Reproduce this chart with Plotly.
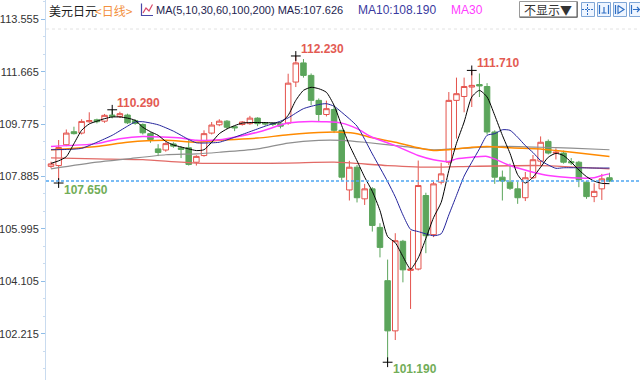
import plotly.graph_objects as go

# ---------------- data ----------------
opens = [108.25, 108.28, 109.03, 109.50, 109.45, 109.86, 109.93, 109.88, 110.10, 110.05,
         110.10, 109.90, 109.76, 109.43, 108.88, 108.84, 109.06, 108.92, 108.92, 108.40,
         108.64, 109.45, 109.75, 109.88, 109.68, 109.76, 109.79, 109.99, 109.82, 109.80,
         109.78, 109.81, 111.29, 111.98, 111.53, 110.63, 110.12, 110.30, 109.55, 107.40,
         108.22, 107.08, 107.44, 106.05, 104.13, 102.32, 105.55, 104.50, 104.55, 107.20,
         105.79, 107.68, 108.40, 110.63, 110.77, 111.11, 111.20, 111.13, 109.49, 107.86,
         107.68, 107.44, 107.12, 107.84, 108.44, 109.15, 108.73, 108.73, 108.42, 108.40,
         107.68, 107.16, 107.44, 107.84]
highs = [108.42, 109.20, 109.58, 109.68, 109.95, 110.20, 109.97, 110.14, 110.29, 110.22,
         110.15, 109.95, 109.80, 109.48, 109.05, 109.12, 109.12, 108.97, 109.20, 108.65,
         109.55, 109.85, 109.95, 109.92, 109.70, 109.88, 110.07, 110.02, 109.85, 109.83,
         109.80, 111.59, 112.23, 112.12, 111.60, 110.70, 110.62, 110.45, 109.55, 108.45,
         108.30, 107.62, 107.50, 106.20, 104.89, 105.84, 105.60, 105.93, 108.46, 107.30,
         107.70, 108.38, 110.93, 111.45, 111.45, 111.71, 111.60, 111.25, 109.55, 108.10,
         108.35, 107.70, 108.05, 108.66, 109.33, 109.22, 108.90, 108.82, 108.55, 108.45,
         107.72, 107.64, 107.98, 108.02]
lows = [108.18, 107.65, 108.98, 109.40, 109.40, 109.82, 109.80, 109.82, 109.98, 110.00,
        109.78, 109.75, 109.40, 109.10, 108.62, 108.78, 108.92, 108.55, 108.28, 108.28,
        108.60, 109.40, 109.70, 109.60, 109.52, 109.72, 109.75, 109.70, 109.72, 109.70,
        109.62, 109.75, 111.11, 111.45, 110.45, 109.85, 110.05, 109.45, 107.74, 107.02,
        106.95, 106.86, 105.90, 104.97, 101.19, 101.99, 104.07, 103.11, 104.50, 105.12,
        105.70, 107.60, 108.30, 109.25, 110.20, 110.39, 110.75, 109.40, 107.62, 107.02,
        107.40, 106.90, 107.00, 107.80, 108.30, 108.68, 108.50, 108.35, 108.30, 107.50,
        107.08, 106.96, 107.04, 107.68]
closes = [108.34, 108.93, 109.45, 109.43, 109.87, 109.90, 109.86, 110.09, 110.05, 110.15,
          109.82, 109.80, 109.46, 109.22, 108.75, 109.07, 108.98, 108.86, 108.32, 108.61,
          109.43, 109.74, 109.88, 109.66, 109.64, 109.85, 109.99, 109.79, 109.78, 109.76,
          109.70, 111.25, 111.98, 111.53, 110.63, 110.12, 110.33, 109.55, 107.86, 108.22,
          107.12, 107.44, 106.12, 105.33, 102.32, 105.57, 104.52, 104.55, 107.56, 105.75,
          107.62, 107.98, 110.63, 110.87, 111.13, 111.17, 111.15, 109.49, 107.86, 107.72,
          107.46, 107.12, 107.84, 108.49, 109.12, 108.73, 108.76, 108.40, 108.38, 107.77,
          107.16, 107.35, 107.80, 107.72]
days = list(range(len(opens)))

ma5_idx = [0, 1, 2, 3, 4, 5, 6, 7, 8, 9, 10, 11, 12, 13, 14, 15, 16, 17, 18, 19, 20, 21, 22, 23,
           24, 25, 26, 28, 30, 31, 32, 33, 34, 35, 36, 37, 38, 39, 40, 41, 42, 43, 44, 45, 46, 47,
           48, 49, 50, 51, 52, 53, 54, 55, 56, 57, 58, 59, 60, 61, 62, 63, 64, 65, 66, 67, 68, 69,
           70, 71, 72, 73]
ma5_val = [108.36, 108.45, 108.60, 109.07, 109.55, 109.78, 109.88, 109.97, 110.03, 110.03,
           109.99, 109.91, 109.66, 109.50, 109.37, 109.15, 109.02, 108.95, 108.88, 108.82,
           108.85, 109.12, 109.43, 109.60, 109.72, 109.81, 109.83, 109.83, 109.83, 110.09,
           110.63, 110.99, 111.10, 111.05, 110.92, 110.45, 109.72, 109.02, 108.45, 107.86,
           107.35, 106.66, 105.72, 105.50, 105.00, 104.55, 104.95, 105.65, 106.40, 106.95,
           108.10, 109.08, 109.85, 110.75, 110.99, 110.75, 110.09, 109.37, 108.72, 107.95,
           107.65, 107.86, 108.22, 108.58, 108.72, 108.64, 108.40, 108.12, 107.88, 107.72,
           107.64, 107.626]
ma10_idx = [0, 2, 4, 6, 8, 10, 11, 12, 14, 16, 18, 19, 21, 22, 24, 26, 28, 30, 31, 33, 35, 36,
            37, 38, 40, 42, 44, 45, 46, 47, 48, 50, 51, 52, 53, 54, 55, 56, 57, 58, 59, 60, 61,
            62, 63, 64, 65, 66, 67, 69, 71, 73]
ma10_val = [108.85, 108.86, 108.90, 109.12, 109.37, 109.70, 109.85, 109.86, 109.75, 109.52,
            109.22, 109.10, 109.10, 109.12, 109.30, 109.50, 109.70, 109.88, 110.00, 110.33,
            110.48, 110.51, 110.42, 110.20, 109.70, 108.70, 107.70, 107.15, 106.50, 105.98,
            105.90, 105.75, 105.82, 106.50, 107.20, 107.90, 108.40, 108.88, 109.37, 109.43,
            109.57, 109.55, 109.30, 109.00, 108.75, 108.46, 108.30, 108.18, 108.20, 108.20,
            108.19, 108.19]
ma30_idx = [0, 6, 9, 12, 17, 19, 22, 27, 31, 34, 38, 40, 42, 45, 48, 50, 52, 53, 55, 57, 58,
            60, 63, 65, 68, 71, 72, 73]
ma30_val = [108.97, 109.07, 109.25, 109.33, 109.27, 109.19, 109.21, 109.48, 109.81, 109.87,
            109.81, 109.61, 109.30, 109.00, 108.64, 108.49, 108.43, 108.52, 108.58, 108.61,
            108.52, 108.28, 108.04, 107.92, 107.84, 107.84, 107.92, 107.98]
ma60_idx = [0, 6, 10, 15, 19, 22, 27, 31, 36, 38, 40, 42, 45, 48, 50, 52, 55, 57, 60, 64, 66,
            69, 73]
ma60_val = [108.85, 108.97, 109.12, 109.19, 109.12, 109.19, 109.27, 109.39, 109.48, 109.48,
            109.43, 109.28, 109.12, 108.92, 108.82, 108.85, 108.94, 108.97, 108.92, 108.88,
            108.82, 108.73, 108.61]
ma100_idx = [0, 6, 10, 15, 19, 22, 27, 31, 35, 38, 41, 46, 50, 55, 59, 64, 68, 73]
ma100_val = [108.16, 108.40, 108.52, 108.67, 108.70, 108.76, 108.88, 109.09, 109.19, 109.19,
             109.12, 108.97, 108.85, 108.92, 108.97, 108.94, 108.91, 108.85]
ma200_idx = [0, 6, 12, 19, 31, 37, 44, 50, 55, 64, 73]
ma200_val = [108.56, 108.52, 108.49, 108.37, 108.37, 108.40, 108.28, 108.22, 108.25, 108.28, 108.16]

tick_vals = [102.215, 104.105, 105.995, 107.885, 109.775, 111.665, 113.555]
tick_text = ["102.215", "104.105", "105.995", "107.885", "109.775", "111.665", "113.555"]

high_marks_idx = [8, 32, 55]
high_marks_val = [110.290, 112.230, 111.710]
low_marks_idx = [1, 44]
low_marks_val = [107.650, 101.190]

header_name = "美元日元"
header_period = "&lt;日线&gt;"
header_ma = "MA(5,10,30,60,100,200) MA5:107.626"
header_ma10 = "MA10:108.190"
header_ma30 = "MA30"
header_btn = "不显示▼"

# ---------------- figure ----------------
RED = "#e4524c"
GREEN = "#5ba55b"
NUMF = "Liberation Sans, Arial, sans-serif"
CJKF = "Noto Sans CJK SC, sans-serif"
L = 46  # left margin in px

fig = go.Figure()

fig.add_trace(go.Candlestick(
    x=days, open=opens, high=highs, low=lows, close=closes,
    increasing=dict(line=dict(color=RED, width=1), fillcolor="#ffffff"),
    decreasing=dict(line=dict(color=GREEN, width=1), fillcolor=GREEN),
    whiskerwidth=0, showlegend=False, hoverinfo="skip"))

for idx, val, col, w in [
    (ma200_idx, ma200_val, "#e26a66", 1.3),
    (ma100_idx, ma100_val, "#8f8f8f", 1.2),
    (ma60_idx, ma60_val, "#ff8a00", 1.5),
    (ma30_idx, ma30_val, "#ff3cff", 1.5),
    (ma10_idx, ma10_val, "#24249c", 1.0),
    (ma5_idx, ma5_val, "#000000", 1.0),
]:
    fig.add_trace(go.Scatter(x=idx, y=val, mode="lines",
                             line=dict(color=col, width=w, shape="spline", smoothing=0.6),
                             showlegend=False, hoverinfo="skip"))

fig.add_trace(go.Scatter(x=high_marks_idx + low_marks_idx, y=high_marks_val + low_marks_val,
                         mode="markers",
                         marker=dict(symbol="cross-thin", size=7,
                                     line=dict(color="#000000", width=1)),
                         showlegend=False, hoverinfo="skip"))

ann = []
for i, v in zip(high_marks_idx, high_marks_val):
    ann.append(dict(x=i, y=v, xref="x", yref="y", text="<b>%.3f</b>" % v, showarrow=False,
                    xanchor="left", yanchor="middle", xshift=3, yshift=7,
                    font=dict(family=NUMF, size=12, color="#e35b53")))
for i, v in zip(low_marks_idx, low_marks_val):
    ann.append(dict(x=i, y=v, xref="x", yref="y", text="<b>%.3f</b>" % v, showarrow=False,
                    xanchor="left", yanchor="middle", xshift=3, yshift=-7,
                    font=dict(family=NUMF, size=12, color="#72ad58")))


def hdr(text, px, color, size=12, family=NUMF, py=10, anchor="left"):
    return dict(x=0, y=1, xref="paper", yref="paper", text=text, showarrow=False,
                xanchor=anchor, yanchor="middle", xshift=px - L, yshift=-py,
                font=dict(family=family, size=size, color=color))


ann += [
    hdr(header_name, 47, "#1a1a1a", 12, CJKF),
    hdr(header_period, 93, "#f39040", 12, CJKF),
    hdr(header_ma, 154, "#23234f", 11),
    hdr(header_ma10, 356, "#3a3aa0", 12),
    hdr(header_ma30, 449, "#ff3cff", 12),
    hdr(header_btn, 548, "#333333", 12, CJKF, 9, "center"),
]


def pxshape(kind, x0, y0, x1, y1, **kw):
    d = dict(type=kind, xref="paper", yref="paper", xsizemode="pixel", ysizemode="pixel",
             xanchor=0, yanchor=1, x0=x0 - L, x1=x1 - L, y0=-y0, y1=-y1)
    d.update(kw)
    return d


def pxpath(points_str, **kw):
    segs = []
    for part in points_str.split("|"):
        pts = [p.split(",") for p in part.split()]
        s = "M %.1f,%.1f " % (float(pts[0][0]) - L, -float(pts[0][1]))
        s += " ".join("L %.1f,%.1f" % (float(a) - L, -float(b)) for a, b in pts[1:])
        segs.append(s)
    d = dict(type="path", xref="paper", yref="paper", xsizemode="pixel", ysizemode="pixel",
             xanchor=0, yanchor=1, path=" ".join(segs))
    d.update(kw)
    return d


shapes = [
    dict(type="line", xref="paper", yref="y", x0=0, x1=1, y0=closes[-1], y1=closes[-1],
         line=dict(color="#4fa6f2", width=1.5, dash="3px,2px"), layer="above"),
    pxshape("line", 46, 29, 640, 29, line=dict(color="#e2e2e2", width=1, dash="3px,3px")),
    pxpath("141.5,3.5 141.5,15.5 153,15.5", line=dict(color="#4848a8", width=1.2)),
    pxpath("143,13 146,8 149,11 152.5,4.5", line=dict(color="#d84a6a", width=1.2)),
    pxshape("rect", 519.5, 1.5, 577.5, 17.5, line=dict(color="#9a9a9a", width=1),
            fillcolor="#ffffff", layer="below"),
    pxpath("520,17 577,17 577,2", line=dict(color="#555555", width=1)),
]
for x0 in [581, 597, 613, 629]:
    shapes.append(pxshape("rect", x0 + 0.5, 2.5, x0 + 13.5, 16.5,
                          line=dict(color="#7fa6d6", width=1), fillcolor="#eef5ff",
                          layer="below"))
icon_blue = dict(color="#2f6fc4", width=1.2)
shapes += [
    pxpath("587.5,4 587.5,15|582,9.5 593,9.5", line=dict(color="#2f6fc4", width=1, dash="2px,1px")),
    pxpath("599.5,5 599.5,14|608.5,5 608.5,14|601.5,13 606.5,13|604,7 604,13", line=icon_blue),
    pxpath("615.5,5 615.5,14|618,5.5 624,9.5 618,13.5 618,5.5", line=icon_blue),
    pxpath("631.5,5 631.5,14|633,9.5 640,9.5|637,7 639.5,9.5 637,12", line=icon_blue),
]

minor_vals = [tick_vals[0] + k * 0.63 for k in range(-3, 20)]

fig.update_layout(
    width=640, height=380,
    margin=dict(l=L, r=0, t=0, b=0),
    paper_bgcolor="#ffffff", plot_bgcolor="#ffffff",
    showlegend=False,
    boxgap=0.28, boxgroupgap=0,
    annotations=ann, shapes=shapes,
    xaxis=dict(range=[-0.654, 76.99], visible=False, rangeslider=dict(visible=False),
               showgrid=False, zeroline=False, fixedrange=True),
    yaxis=dict(range=[100.549, 114.248], tickmode="array", tickvals=tick_vals,
               ticktext=tick_text, showgrid=False, zeroline=False,
               showline=True, linecolor="#c9dbef", linewidth=1,
               ticks="outside", ticklen=4, tickcolor="#8fbde8", tickwidth=1,
               tickfont=dict(family=NUMF, size=11, color="#333333"),
               minor=dict(tickmode="array", tickvals=minor_vals, ticks="outside",
                          ticklen=2, tickcolor="#c9dbef", showgrid=False),
               fixedrange=True),
)

fig.write_html("out.html", config={"displayModeBar": False},
               post_script="document.body.style.margin='0';document.body.style.overflow='hidden';")
